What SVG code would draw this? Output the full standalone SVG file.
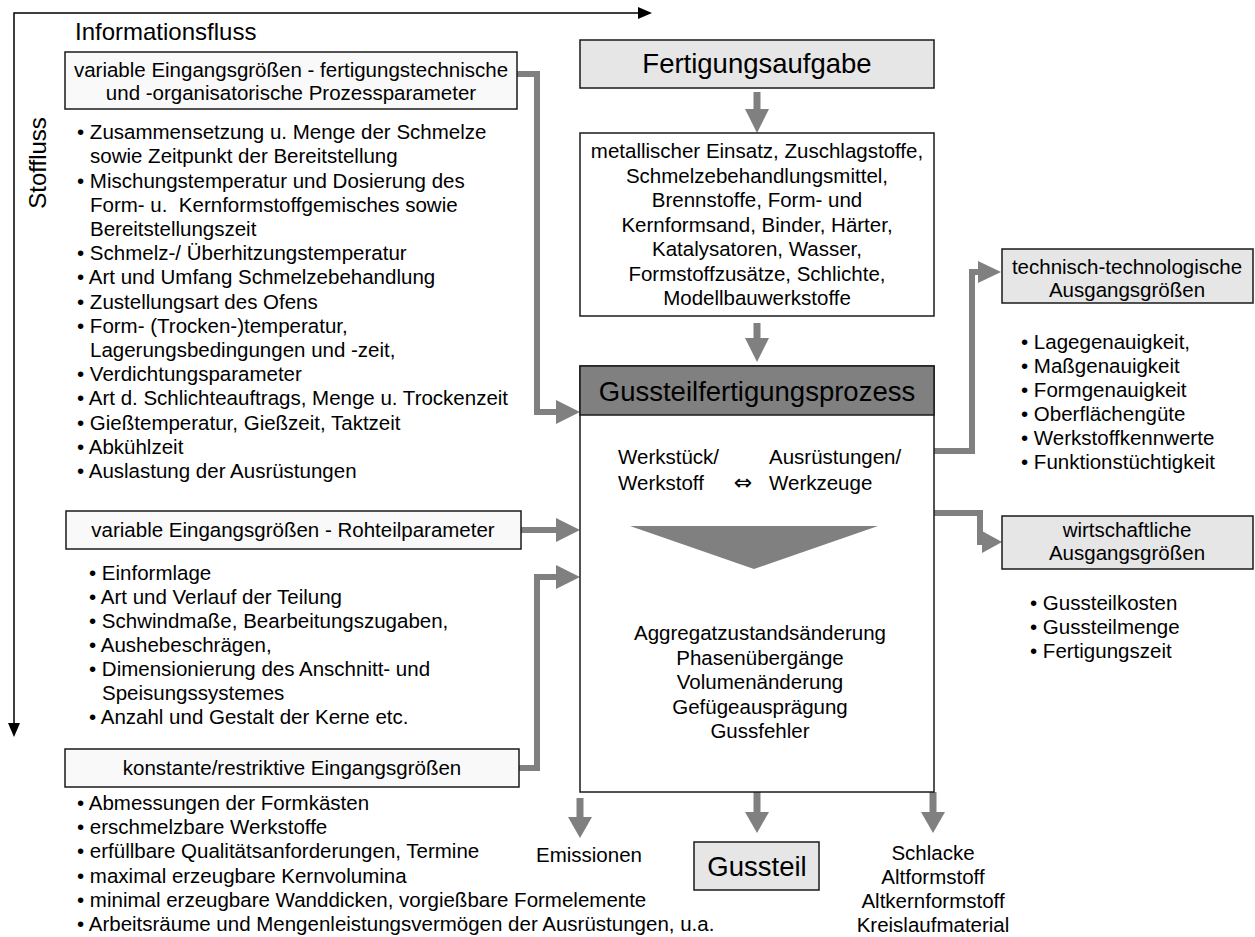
<svg xmlns="http://www.w3.org/2000/svg" width="1255" height="937" viewBox="0 0 1255 937">
  <style>
    text { font-family: "Liberation Sans", Arial, sans-serif; font-size: 20.5px; fill: #000; }
    .c { text-anchor: middle; }
    .pre { white-space: pre; }
    .title { font-size: 27.5px; }
    .label { font-size: 24px; }
    .sym { font-family: "DejaVu Sans", sans-serif; font-size: 22px; }
    .box { stroke: #1a1a1a; stroke-width: 1.5; }
    .input { fill: #f9f9f9; }
    .light { fill: #e6e6e6; }
    .white { fill: #ffffff; }
    .dark { fill: #808080; }
    .conn { fill: none; stroke: #808080; stroke-width: 6; stroke-linejoin: miter; }
    .shaft { fill: none; stroke: #808080; stroke-width: 7; }
    .head { fill: #808080; }
    .flow { fill: none; stroke: #000; stroke-width: 1.5; }
    .flowhead { fill: #000; }
  </style>

  <rect width="1255" height="937" fill="#ffffff"/>

  <!-- information / material flow axes -->
  <g id="flow-axes">
    <path class="flow" d="M14,724 V13 H640"/>
    <polygon class="flowhead" points="638,7 652,13 638,19"/>
    <polygon class="flowhead" points="8,723 14,737 20,723"/>
    <text x="75" y="40" class="label">Informationsfluss</text>
    <text class="label c" transform="translate(46,163) rotate(-90)">Stoffluss</text>
  </g>

  <!-- connectors -->
  <g id="connectors">
    <!-- inputs into the process -->
    <path class="conn" d="M517,74 H537 V412 H558"/>
    <polygon class="head" points="556,400 580,412 556,424"/>
    <path class="conn" d="M521,530 H558"/>
    <polygon class="head" points="556,518 580,530 556,542"/>
    <path class="conn" d="M519,768 H537 V577 H558"/>
    <polygon class="head" points="556,565 580,577 556,589"/>

    <!-- task -> materials -> process -->
    <path class="shaft" d="M757,92 V111"/>
    <polygon class="head" points="745,109 769,109 757,133"/>
    <path class="shaft" d="M757,323 V340"/>
    <polygon class="head" points="745,338 769,338 757,362"/>

    <!-- outputs to the right -->
    <path class="conn" d="M934,451 H972 V272 H980"/>
    <polygon class="head" points="978,261 1001,272 978,283"/>
    <path class="conn" d="M934,513 H980 V542 H984"/>
    <polygon class="head" points="982,531 1002,542 982,553"/>

    <!-- outputs below -->
    <path class="shaft" d="M580,798 V819"/>
    <polygon class="head" points="568,817 592,817 580,838"/>
    <path class="shaft" d="M757,792 V814"/>
    <polygon class="head" points="745,812 769,812 757,833"/>
    <path class="shaft" d="M933,792 V814"/>
    <polygon class="head" points="921,812 945,812 933,833"/>
  </g>

  <!-- variable inputs: process parameters -->
  <g id="input-process">
    <rect class="box input" x="65" y="52" width="452" height="57"/>
    <text x="291" y="77" class="c">variable Eingangsgrößen - fertigungstechnische</text>
    <text x="291" y="100" class="c">und -organisatorische Prozessparameter</text>
  </g>
  <g id="list-process">
    <text x="77" y="139">• Zusammensetzung u. Menge der Schmelze</text>
    <text x="90" y="163">sowie Zeitpunkt der Bereitstellung</text>
    <text x="77" y="187.5">• Mischungstemperatur und Dosierung des</text>
    <text x="90" y="211.5" class="pre">Form- u.  Kernformstoffgemisches sowie</text>
    <text x="90" y="236">Bereitstellungszeit</text>
    <text x="77" y="260">• Schmelz-/ Überhitzungstemperatur</text>
    <text x="77" y="284">• Art und Umfang Schmelzebehandlung</text>
    <text x="77" y="308.5">• Zustellungsart des Ofens</text>
    <text x="77" y="332.5">• Form- (Trocken-)temperatur,</text>
    <text x="90" y="357">Lagerungsbedingungen und -zeit,</text>
    <text x="77" y="381">• Verdichtungsparameter</text>
    <text x="77" y="405">• Art d. Schlichteauftrags, Menge u. Trockenzeit</text>
    <text x="77" y="429.5">• Gießtemperatur, Gießzeit, Taktzeit</text>
    <text x="77" y="453.5">• Abkühlzeit</text>
    <text x="77" y="478">• Auslastung der Ausrüstungen</text>
  </g>

  <!-- variable inputs: raw part parameters -->
  <g id="input-rawpart">
    <rect class="box input" x="66" y="511" width="455" height="38"/>
    <text x="293" y="537" class="c">variable Eingangsgrößen - Rohteilparameter</text>
  </g>
  <g id="list-rawpart">
    <text x="89" y="580">• Einformlage</text>
    <text x="89" y="604">• Art und Verlauf der Teilung</text>
    <text x="89" y="628">• Schwindmaße, Bearbeitungszugaben,</text>
    <text x="89" y="652">• Aushebeschrägen,</text>
    <text x="89" y="676">• Dimensionierung des Anschnitt- und</text>
    <text x="102" y="700">Speisungssystemes</text>
    <text x="89" y="724">• Anzahl und Gestalt der Kerne etc.</text>
  </g>

  <!-- constant / restrictive inputs -->
  <g id="input-constant">
    <rect class="box input" x="65" y="749" width="454" height="38"/>
    <text x="292" y="775" class="c">konstante/restriktive Eingangsgrößen</text>
  </g>
  <g id="list-constant">
    <text x="77" y="810">• Abmessungen der Formkästen</text>
    <text x="77" y="834">• erschmelzbare Werkstoffe</text>
    <text x="77" y="858">• erfüllbare Qualitätsanforderungen, Termine</text>
    <text x="77" y="883">• maximal erzeugbare Kernvolumina</text>
    <text x="77" y="907">• minimal erzeugbare Wanddicken, vorgießbare Formelemente</text>
    <text x="77" y="931">• Arbeitsräume und Mengenleistungsvermögen der Ausrüstungen, u.a.</text>
  </g>

  <!-- manufacturing task -->
  <g id="task">
    <rect class="box light" x="580" y="40" width="354" height="48"/>
    <text x="757" y="73" class="c title">Fertigungsaufgabe</text>
  </g>

  <!-- materials -->
  <g id="materials">
    <rect class="box white" x="580" y="133" width="354" height="183"/>
    <text x="757" y="158" class="c">metallischer Einsatz, Zuschlagstoffe,</text>
    <text x="757" y="182.5" class="c">Schmelzebehandlungsmittel,</text>
    <text x="757" y="207" class="c">Brennstoffe, Form- und</text>
    <text x="757" y="231.5" class="c">Kernformsand, Binder, Härter,</text>
    <text x="757" y="256" class="c">Katalysatoren, Wasser,</text>
    <text x="757" y="280.5" class="c">Formstoffzusätze, Schlichte,</text>
    <text x="757" y="305" class="c">Modellbauwerkstoffe</text>
  </g>

  <!-- casting process -->
  <g id="process">
    <rect class="box white" x="580" y="366" width="354" height="426"/>
    <rect class="box dark" x="580" y="366" width="354" height="49"/>
    <text x="757" y="401" class="c title">Gussteilfertigungsprozess</text>
    <text x="618" y="464">Werkstück/</text>
    <text x="618" y="490">Werkstoff</text>
    <text x="743" y="490" class="c sym">⇔</text>
    <text x="769" y="464">Ausrüstungen/</text>
    <text x="769" y="490">Werkzeuge</text>
    <polygon class="head" points="630,526 878,526 754,569"/>
    <text x="760" y="640" class="c">Aggregatzustandsänderung</text>
    <text x="760" y="664.5" class="c">Phasenübergänge</text>
    <text x="760" y="689" class="c">Volumenänderung</text>
    <text x="760" y="713.5" class="c">Gefügeausprägung</text>
    <text x="760" y="738" class="c">Gussfehler</text>
  </g>

  <!-- technical outputs -->
  <g id="output-technical">
    <rect class="box light" x="1002" y="249" width="251" height="54"/>
    <text x="1127" y="274" class="c">technisch-technologische</text>
    <text x="1127" y="297" class="c">Ausgangsgrößen</text>
  </g>
  <g id="list-technical">
    <text x="1021" y="349">• Lagegenauigkeit,</text>
    <text x="1021" y="373">• Maßgenauigkeit</text>
    <text x="1021" y="397">• Formgenauigkeit</text>
    <text x="1021" y="421">• Oberflächengüte</text>
    <text x="1021" y="445">• Werkstoffkennwerte</text>
    <text x="1021" y="469">• Funktionstüchtigkeit</text>
  </g>

  <!-- economic outputs -->
  <g id="output-economic">
    <rect class="box light" x="1002" y="516" width="251" height="53"/>
    <text x="1127" y="537" class="c">wirtschaftliche</text>
    <text x="1127" y="560" class="c">Ausgangsgrößen</text>
  </g>
  <g id="list-economic">
    <text x="1030" y="610">• Gussteilkosten</text>
    <text x="1030" y="634">• Gussteilmenge</text>
    <text x="1030" y="658">• Fertigungszeit</text>
  </g>

  <!-- emissions -->
  <g id="emissions">
    <text x="589" y="862" class="c">Emissionen</text>
  </g>

  <!-- casting -->
  <g id="casting">
    <rect class="box light" x="694" y="842" width="125" height="48"/>
    <text x="757" y="876" class="c title">Gussteil</text>
  </g>

  <!-- residues -->
  <g id="residues">
    <text x="933" y="860" class="c">Schlacke</text>
    <text x="933" y="884" class="c">Altformstoff</text>
    <text x="933" y="908" class="c">Altkernformstoff</text>
    <text x="933" y="932" class="c">Kreislaufmaterial</text>
  </g>
</svg>
